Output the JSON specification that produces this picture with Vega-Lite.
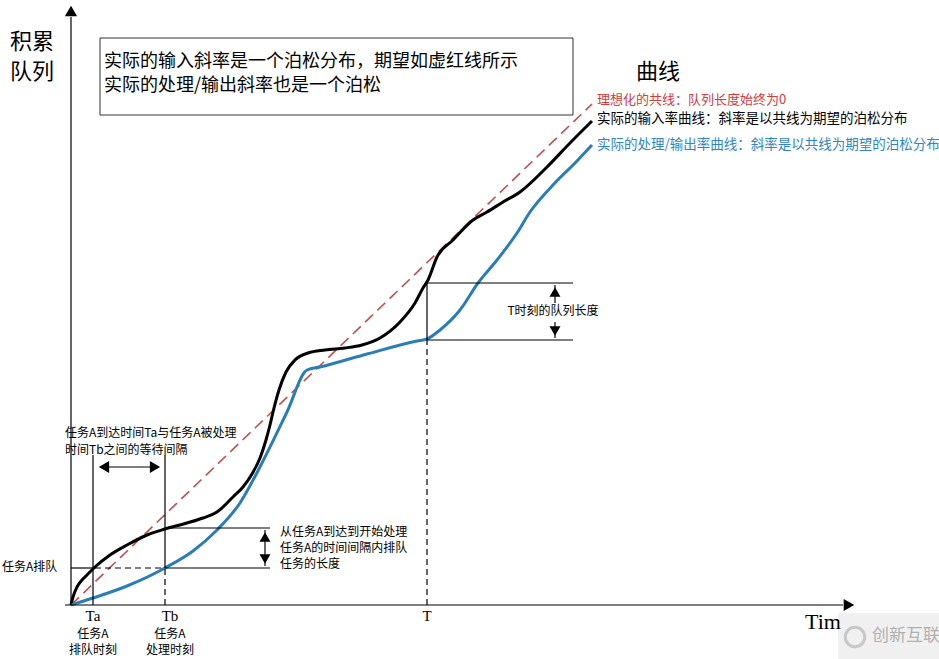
{
  "$schema": "https://vega.github.io/schema/vega-lite/v6.json",
  "width": 939,
  "height": 659,
  "autosize": "none",
  "padding": 0,
  "background": "white",
  "config": {"view": {"stroke": null}},
  "datasets": {
    "ideal": [{"x": 0, "y": 0}, {"x": 521, "y": 501}],
    "input": [
      {"x": 0, "y": 0}, {"x": 2, "y": 8}, {"x": 6, "y": 18}, {"x": 11, "y": 25}, {"x": 16, "y": 30},
      {"x": 24, "y": 38}, {"x": 39, "y": 50}, {"x": 56, "y": 60}, {"x": 76, "y": 70}, {"x": 94, "y": 76},
      {"x": 116, "y": 82}, {"x": 132, "y": 87}, {"x": 146, "y": 93}, {"x": 162, "y": 108}, {"x": 172, "y": 118},
      {"x": 181, "y": 131}, {"x": 189, "y": 147}, {"x": 195, "y": 165}, {"x": 199, "y": 180}, {"x": 203, "y": 197},
      {"x": 208, "y": 215}, {"x": 215, "y": 233}, {"x": 224, "y": 245}, {"x": 237, "y": 252}, {"x": 254, "y": 255},
      {"x": 274, "y": 257}, {"x": 291, "y": 260}, {"x": 309, "y": 267}, {"x": 329, "y": 283}, {"x": 344, "y": 302},
      {"x": 352, "y": 317}, {"x": 357, "y": 325}, {"x": 366, "y": 348}, {"x": 382, "y": 365}, {"x": 402, "y": 385},
      {"x": 416, "y": 393}, {"x": 432, "y": 403}, {"x": 449, "y": 413}, {"x": 476, "y": 438}, {"x": 499, "y": 462},
      {"x": 521, "y": 484}
    ],
    "output": [
      {"x": 0, "y": 0}, {"x": 22, "y": 7}, {"x": 56, "y": 19}, {"x": 94, "y": 37}, {"x": 122, "y": 54},
      {"x": 146, "y": 75}, {"x": 169, "y": 102}, {"x": 191, "y": 142}, {"x": 216, "y": 193}, {"x": 236, "y": 235},
      {"x": 249, "y": 238}, {"x": 296, "y": 251}, {"x": 346, "y": 264}, {"x": 356, "y": 266}, {"x": 369, "y": 275},
      {"x": 389, "y": 295}, {"x": 407, "y": 322}, {"x": 426, "y": 345}, {"x": 446, "y": 372}, {"x": 459, "y": 393},
      {"x": 482, "y": 420}, {"x": 506, "y": 444}, {"x": 521, "y": 460}
    ],
    "solid": [
      {"x": 0, "y": 0, "x2": 0, "y2": 588},
      {"x": -6, "y": 0, "x2": 772, "y2": 0},
      {"x": 22, "y": 0, "x2": 22, "y2": 150},
      {"x": 94, "y": 37, "x2": 94, "y2": 150},
      {"x": 0, "y": 37, "x2": 24, "y2": 37},
      {"x": 94, "y": 37, "x2": 199, "y2": 37},
      {"x": 94, "y": 77, "x2": 199, "y2": 77},
      {"x": 29, "y": 138, "x2": 87, "y2": 138},
      {"x": 194, "y": 39, "x2": 194, "y2": 75},
      {"x": 356, "y": 265, "x2": 356, "y2": 322},
      {"x": 356, "y": 322, "x2": 502, "y2": 322},
      {"x": 356, "y": 265, "x2": 502, "y2": 265},
      {"x": 484, "y": 302, "x2": 484, "y2": 320},
      {"x": 484, "y": 267, "x2": 484, "y2": 283}
    ],
    "dashed": [
      {"x": 94, "y": 0, "x2": 94, "y2": 37},
      {"x": 24, "y": 37, "x2": 94, "y2": 37},
      {"x": 356, "y": 0, "x2": 356, "y2": 265}
    ],
    "arrows": [
      {"x": 0, "y": 594, "shape": "triangle-up", "size": 150},
      {"x": 778, "y": 0, "shape": "triangle-right", "size": 150},
      {"x": 33, "y": 138, "shape": "triangle-left", "size": 140},
      {"x": 84, "y": 138, "shape": "triangle-right", "size": 140},
      {"x": 194, "y": 68, "shape": "triangle-up", "size": 120},
      {"x": 194, "y": 46, "shape": "triangle-down", "size": 120},
      {"x": 484, "y": 313, "shape": "triangle-up", "size": 120},
      {"x": 484, "y": 274, "shape": "triangle-down", "size": 120}
    ],
    "box": [{"x": 29, "y": 490, "x2": 502, "y2": 567}],
    "stamp": [{"x": 767, "y": -54, "x2": 868, "y2": -8}],
    "logo": [{"x": 784, "y": -32}],
    "cjkLeft": [
      {"x": -61, "y": 563, "text": "积累", "size": 22, "color": "#000000"},
      {"x": -61, "y": 533, "text": "队列", "size": 22, "color": "#000000"},
      {"x": 33, "y": 543, "text": "实际的输入斜率是一个泊松分布，期望如虚红线所示", "size": 18, "color": "#000000"},
      {"x": 33, "y": 519, "text": "实际的处理/输出斜率也是一个泊松", "size": 18, "color": "#000000"},
      {"x": 565, "y": 533, "text": "曲线", "size": 22, "color": "#000000"},
      {"x": 526, "y": 505, "text": "理想化的共线：队列长度始终为0", "size": 13, "color": "#d23c3c"},
      {"x": 526, "y": 486, "text": "实际的输入率曲线：斜率是以共线为期望的泊松分布", "size": 13.5, "color": "#000000"},
      {"x": 526, "y": 460, "text": "实际的处理/输出率曲线：斜率是以共线为期望的泊松分布", "size": 13.5, "color": "#2f86c0"},
      {"x": -6, "y": 172, "text": "任务A到达时间Ta与任务A被处理", "size": 12, "color": "#000000"},
      {"x": -6, "y": 155, "text": "时间Tb之间的等待间隔", "size": 12, "color": "#000000"},
      {"x": -69, "y": 38, "text": "任务A排队", "size": 12, "color": "#000000"},
      {"x": 209, "y": 73, "text": "从任务A到达到开始处理", "size": 12, "color": "#000000"},
      {"x": 209, "y": 57, "text": "任务A的时间间隔内排队", "size": 12, "color": "#000000"},
      {"x": 209, "y": 41, "text": "任务的长度", "size": 12, "color": "#000000"},
      {"x": 801, "y": -31, "text": "创新互联", "size": 17, "color": "#b0b0b0"}
    ],
    "cjkCenter": [
      {"x": 482, "y": 294, "text": "T时刻的队列长度", "size": 12},
      {"x": 22, "y": -29, "text": "任务A", "size": 12},
      {"x": 22, "y": -45, "text": "排队时刻", "size": 12},
      {"x": 99, "y": -29, "text": "任务A", "size": 12},
      {"x": 99, "y": -45, "text": "处理时刻", "size": 12}
    ],
    "serif": [
      {"x": 22, "y": -11, "text": "Ta", "size": 15},
      {"x": 99, "y": -11, "text": "Tb", "size": 15},
      {"x": 356, "y": -11, "text": "T", "size": 15},
      {"x": 752, "y": -17, "text": "Tim", "size": 22}
    ]
  },
  "layer": [
    {
      "data": {"name": "box"},
      "mark": {"type": "rect", "fill": "white", "stroke": "#333333", "strokeWidth": 1},
      "encoding": {
        "x": {"field": "x", "type": "quantitative", "scale": {"domain": [-71, 868], "nice": false, "zero": false}, "axis": null},
        "x2": {"field": "x2"},
        "y": {"field": "y", "type": "quantitative", "scale": {"domain": [-54, 605], "nice": false, "zero": false}, "axis": null},
        "y2": {"field": "y2"}
      }
    },
    {
      "data": {"name": "ideal"},
      "mark": {"type": "line", "color": "#c0504d", "strokeWidth": 1.6, "strokeDash": [11, 6]},
      "encoding": {
        "x": {"field": "x", "type": "quantitative", "scale": {"domain": [-71, 868], "nice": false, "zero": false}, "axis": null},
        "y": {"field": "y", "type": "quantitative", "scale": {"domain": [-54, 605], "nice": false, "zero": false}, "axis": null}
      }
    },
    {
      "data": {"name": "input"},
      "mark": {"type": "line", "color": "#000000", "strokeWidth": 3, "interpolate": "monotone"},
      "encoding": {
        "x": {"field": "x", "type": "quantitative", "scale": {"domain": [-71, 868], "nice": false, "zero": false}, "axis": null},
        "y": {"field": "y", "type": "quantitative", "scale": {"domain": [-54, 605], "nice": false, "zero": false}, "axis": null}
      }
    },
    {
      "data": {"name": "output"},
      "mark": {"type": "line", "color": "#2a7db5", "strokeWidth": 3, "interpolate": "monotone"},
      "encoding": {
        "x": {"field": "x", "type": "quantitative", "scale": {"domain": [-71, 868], "nice": false, "zero": false}, "axis": null},
        "y": {"field": "y", "type": "quantitative", "scale": {"domain": [-54, 605], "nice": false, "zero": false}, "axis": null}
      }
    },
    {
      "data": {"name": "solid"},
      "mark": {"type": "rule", "color": "#000000", "strokeWidth": 1.2},
      "encoding": {
        "x": {"field": "x", "type": "quantitative", "scale": {"domain": [-71, 868], "nice": false, "zero": false}, "axis": null},
        "x2": {"field": "x2"},
        "y": {"field": "y", "type": "quantitative", "scale": {"domain": [-54, 605], "nice": false, "zero": false}, "axis": null},
        "y2": {"field": "y2"}
      }
    },
    {
      "data": {"name": "dashed"},
      "mark": {"type": "rule", "color": "#000000", "strokeWidth": 1.2, "strokeDash": [6, 4]},
      "encoding": {
        "x": {"field": "x", "type": "quantitative", "scale": {"domain": [-71, 868], "nice": false, "zero": false}, "axis": null},
        "x2": {"field": "x2"},
        "y": {"field": "y", "type": "quantitative", "scale": {"domain": [-54, 605], "nice": false, "zero": false}, "axis": null},
        "y2": {"field": "y2"}
      }
    },
    {
      "data": {"name": "arrows"},
      "mark": {"type": "point", "filled": true, "color": "#000000", "opacity": 1},
      "encoding": {
        "x": {"field": "x", "type": "quantitative", "scale": {"domain": [-71, 868], "nice": false, "zero": false}, "axis": null},
        "y": {"field": "y", "type": "quantitative", "scale": {"domain": [-54, 605], "nice": false, "zero": false}, "axis": null},
        "shape": {"field": "shape", "type": "nominal", "scale": null, "legend": null},
        "size": {"field": "size", "type": "quantitative", "scale": null, "legend": null}
      }
    },
    {
      "data": {"name": "stamp"},
      "mark": {"type": "rect", "fill": "#eeeeee", "opacity": 0.9},
      "encoding": {
        "x": {"field": "x", "type": "quantitative", "scale": {"domain": [-71, 868], "nice": false, "zero": false}, "axis": null},
        "x2": {"field": "x2"},
        "y": {"field": "y", "type": "quantitative", "scale": {"domain": [-54, 605], "nice": false, "zero": false}, "axis": null},
        "y2": {"field": "y2"}
      }
    },
    {
      "data": {"name": "logo"},
      "mark": {"type": "point", "shape": "circle", "filled": false, "stroke": "#b8b8b8", "strokeWidth": 3, "size": 380},
      "encoding": {
        "x": {"field": "x", "type": "quantitative", "scale": {"domain": [-71, 868], "nice": false, "zero": false}, "axis": null},
        "y": {"field": "y", "type": "quantitative", "scale": {"domain": [-54, 605], "nice": false, "zero": false}, "axis": null}
      }
    },
    {
      "data": {"name": "cjkLeft"},
      "mark": {"type": "text", "align": "left", "baseline": "middle", "font": "Noto Sans CJK SC"},
      "encoding": {
        "x": {"field": "x", "type": "quantitative", "scale": {"domain": [-71, 868], "nice": false, "zero": false}, "axis": null},
        "y": {"field": "y", "type": "quantitative", "scale": {"domain": [-54, 605], "nice": false, "zero": false}, "axis": null},
        "text": {"field": "text"},
        "size": {"field": "size", "type": "quantitative", "scale": null, "legend": null},
        "color": {"field": "color", "type": "nominal", "scale": null, "legend": null}
      }
    },
    {
      "data": {"name": "cjkCenter"},
      "mark": {"type": "text", "align": "center", "baseline": "middle", "font": "Noto Sans CJK SC", "color": "#000000"},
      "encoding": {
        "x": {"field": "x", "type": "quantitative", "scale": {"domain": [-71, 868], "nice": false, "zero": false}, "axis": null},
        "y": {"field": "y", "type": "quantitative", "scale": {"domain": [-54, 605], "nice": false, "zero": false}, "axis": null},
        "text": {"field": "text"},
        "size": {"field": "size", "type": "quantitative", "scale": null, "legend": null}
      }
    },
    {
      "data": {"name": "serif"},
      "mark": {"type": "text", "align": "center", "baseline": "middle", "font": "Liberation Serif", "color": "#000000"},
      "encoding": {
        "x": {"field": "x", "type": "quantitative", "scale": {"domain": [-71, 868], "nice": false, "zero": false}, "axis": null},
        "y": {"field": "y", "type": "quantitative", "scale": {"domain": [-54, 605], "nice": false, "zero": false}, "axis": null},
        "text": {"field": "text"},
        "size": {"field": "size", "type": "quantitative", "scale": null, "legend": null}
      }
    }
  ]
}
